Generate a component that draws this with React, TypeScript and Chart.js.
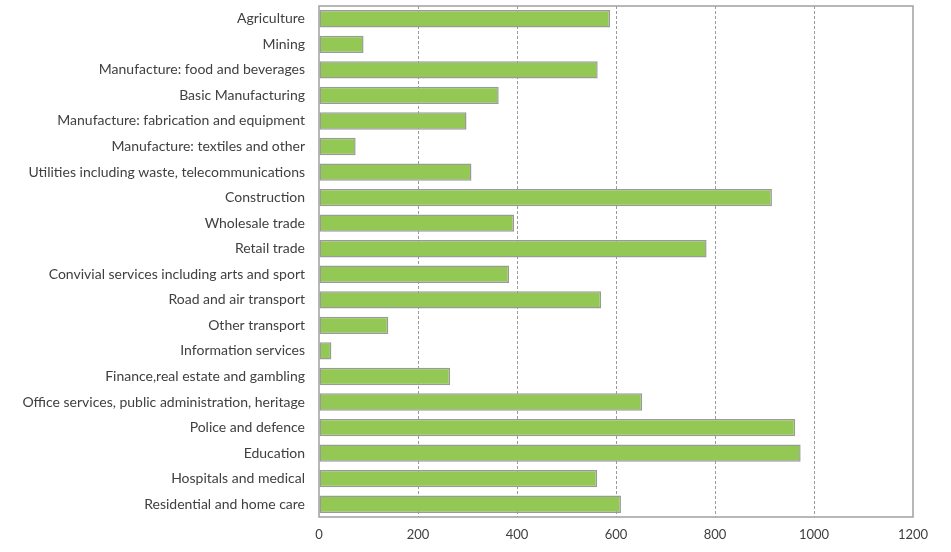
import React, { useEffect, useRef } from "react";
import { Chart, registerables } from "chart.js";

Chart.register(...registerables);

const categories: string[] = [
  "Agriculture",
  "Mining",
  "Manufacture: food and beverages",
  "Basic Manufacturing",
  "Manufacture: fabrication and equipment",
  "Manufacture: textiles and other",
  "Utilities including waste, telecommunications",
  "Construction",
  "Wholesale trade",
  "Retail trade",
  "Convivial services including arts and sport",
  "Road and air transport",
  "Other transport",
  "Information services",
  "Finance,real estate and gambling",
  "Office services, public administration, heritage",
  "Police and defence",
  "Education",
  "Hospitals and medical",
  "Residential and home care",
];

const values: number[] = [
  588, 90, 563, 363, 298, 74, 308, 915, 394, 783, 384, 570, 140, 25, 265, 653,
  962, 973, 562, 610,
];

const xTicks: number[] = [0, 200, 400, 600, 800, 1000, 1200];

const FONT = "Lato, 'Open Sans', sans-serif";

const boxPlugin = {
  id: "plotBox",
  afterDraw(chart: any) {
    const { ctx, chartArea } = chart;
    ctx.save();
    ctx.strokeStyle = "#a0a0a0";
    ctx.lineWidth = 1.5;
    ctx.strokeRect(
      chartArea.left,
      chartArea.top,
      chartArea.right - chartArea.left,
      chartArea.bottom - chartArea.top
    );
    ctx.restore();
  },
};

export default function App() {
  const ref = useRef<HTMLCanvasElement | null>(null);

  useEffect(() => {
    if (!ref.current) return;
    const chart = new Chart(ref.current, {
      type: "bar",
      data: {
        labels: categories,
        datasets: [
          {
            data: values,
            backgroundColor: "#92C853",
            borderColor: "#9a9a9a",
            borderWidth: 1.5,
            borderSkipped: false,
            barPercentage: 0.68,
            categoryPercentage: 1,
          },
        ],
      },
      options: {
        indexAxis: "y",
        animation: false,
        responsive: true,
        maintainAspectRatio: false,
        layout: { padding: { top: 6, right: 38, bottom: 0, left: 0 } },
        plugins: {
          legend: { display: false },
          tooltip: { enabled: false },
        },
        scales: {
          x: {
            type: "linear",
            position: "bottom",
            min: 0,
            max: 1200,
            afterBuildTicks: (scale: any) => {
              scale.ticks = xTicks.map((v) => ({ value: v }));
            },
            afterFit: (scale: any) => {
              scale.height = 35;
              scale.paddingLeft = 0;
              scale.paddingRight = 0;
            },
            grid: {
              color: (c: any) =>
                c.tick && (c.tick.value === 0 || c.tick.value === 1200)
                  ? "rgba(0,0,0,0)"
                  : "#9a9a9a",
              lineWidth: 1,
              drawTicks: false,
            },
            border: { display: false, dash: [3, 2] },
            ticks: {
              padding: 10,
              color: "#404040",
              font: { family: FONT, size: 13 },
              callback: (v: any) => String(v),
            },
          },
          y: {
            afterFit: (scale: any) => {
              scale.width = 319;
              scale.paddingTop = 0;
              scale.paddingBottom = 0;
            },
            grid: { display: false, drawTicks: false },
            border: { display: false },
            ticks: {
              padding: 14,
              color: "#404040",
              autoSkip: false,
              font: { family: FONT, size: 14 },
            },
          },
        },
      },
      plugins: [boxPlugin],
    });
    return () => chart.destroy();
  }, []);

  return (
    <div
      style={{
        position: "fixed",
        left: 0,
        top: 0,
        width: 951,
        height: 552,
        background: "#fff",
      }}
    >
      <canvas ref={ref} />
    </div>
  );
}
